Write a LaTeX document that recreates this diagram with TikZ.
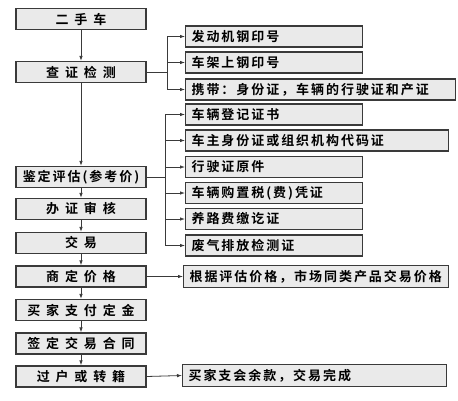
\documentclass[tikz,border=0pt]{standalone}
\usepackage{fontspec}
\setmainfont{Noto Sans CJK SC}[BoldFont={Noto Sans CJK SC Bold}]
\newfontfamily\cjkr{Noto Sans CJK SC Bold}[LetterSpace=15]
\newfontfamily\cjkl{Noto Sans CJK SC Bold}[LetterSpace=45]
\usetikzlibrary{arrows.meta}
\definecolor{boxfill}{HTML}{EAEAEA}
\definecolor{boxline}{HTML}{3A3A3A}
\tikzset{
  lbox/.style={draw=boxline, fill=boxfill, line width=1.2pt, minimum width=130pt, minimum height=21pt, inner sep=0pt, font=\cjkl\fontsize{13}{13}\selectfont},
  lboxn/.style={lbox, font=\cjkr\fontsize{13}{13}\selectfont},
  rbox/.style={draw=boxline, fill=boxfill, line width=1.2pt, minimum height=21pt, inner xsep=6pt, inner ysep=0pt, anchor=west, align=left, text width=#1, font=\cjkr\fontsize{13}{13}\selectfont},
  arr/.style={draw=boxline, line width=0.8pt, -{Latex[length=5pt,width=3.5pt]}},
  ln/.style={draw=boxline, line width=0.8pt}
}
\begin{document}
\begin{tikzpicture}[x=1pt,y=1pt]
\useasboundingbox (0,0) rectangle (458,-400);
% left column
\node[lbox] (a1) at (81,-19) {二手车};
\node[lbox] (a2) at (81,-72) {查证检测};
\node[lboxn] (a3) at (81,-177) {鉴定评估(参考价)};
\node[lbox] (a4) at (81,-209) {办证审核};
\node[lbox] (a5) at (81,-243) {交易};
\node[lbox] (a6) at (81,-276.5) {商定价格};
\node[lbox] (a7) at (81,-310) {买家支付定金};
\node[lbox] (a8) at (81,-343.5) {签定交易合同};
\node[lbox] (a9) at (81,-376.5) {过户或转籍};
% right column, group 1
\node[rbox=165pt] (r1) at (185,-36.5) {发动机钢印号};
\node[rbox=165pt] (r2) at (185,-62.5) {车架上钢印号};
\node[rbox=258pt] (r3) at (185,-89.5) {携带：身份证，车辆的行驶证和产证};
% group 2
\node[rbox=165pt] (s1) at (185,-114.5) {车辆登记证书};
\node[rbox=251pt] (s2) at (185,-140.5) {车主身份证或组织机构代码证};
\node[rbox=165pt] (s3) at (185,-167) {行驶证原件};
\node[rbox=165pt] (s4) at (185,-193) {车辆购置税(费)凭证};
\node[rbox=165pt] (s5) at (185,-219) {养路费缴讫证};
\node[rbox=165pt] (s6) at (185,-245.5) {废气排放检测证};
% single
\node[rbox=253pt, minimum height=22pt] (t1) at (183,-276.5) {根据评估价格，市场同类产品交易价格};
\node[rbox=252pt, minimum height=22pt] (t2) at (182,-375.5) {买家支会余款，交易完成};
% vertical arrows
\draw[arr] (a1) -- (a2);
\draw[arr] (a2) -- (a3);
\draw[arr] (a3) -- (a4);
\draw[arr] (a4) -- (a5);
\draw[arr] (a5) -- (a6);
\draw[arr] (a6) -- (a7);
\draw[arr] (a7) -- (a8);
\draw[arr] (a8) -- (a9);
% bracket 1
\coordinate (j1) at (167,-72);
\draw[ln] (a2.east) -- (j1);
\foreach \n in {r1,r2,r3} \draw[arr] (j1) |- (\n.west);
% bracket 2
\coordinate (j2) at (165,-177);
\draw[ln] (a3.east) -- (j2);
\foreach \n in {s1,s2,s3,s4,s5,s6} \draw[arr] (j2) |- (\n.west);
% straight
\draw[arr] (a6.east) -- (t1.west);
\draw[arr] (a9.east) -- (t2.west);
\end{tikzpicture}
\end{document}
